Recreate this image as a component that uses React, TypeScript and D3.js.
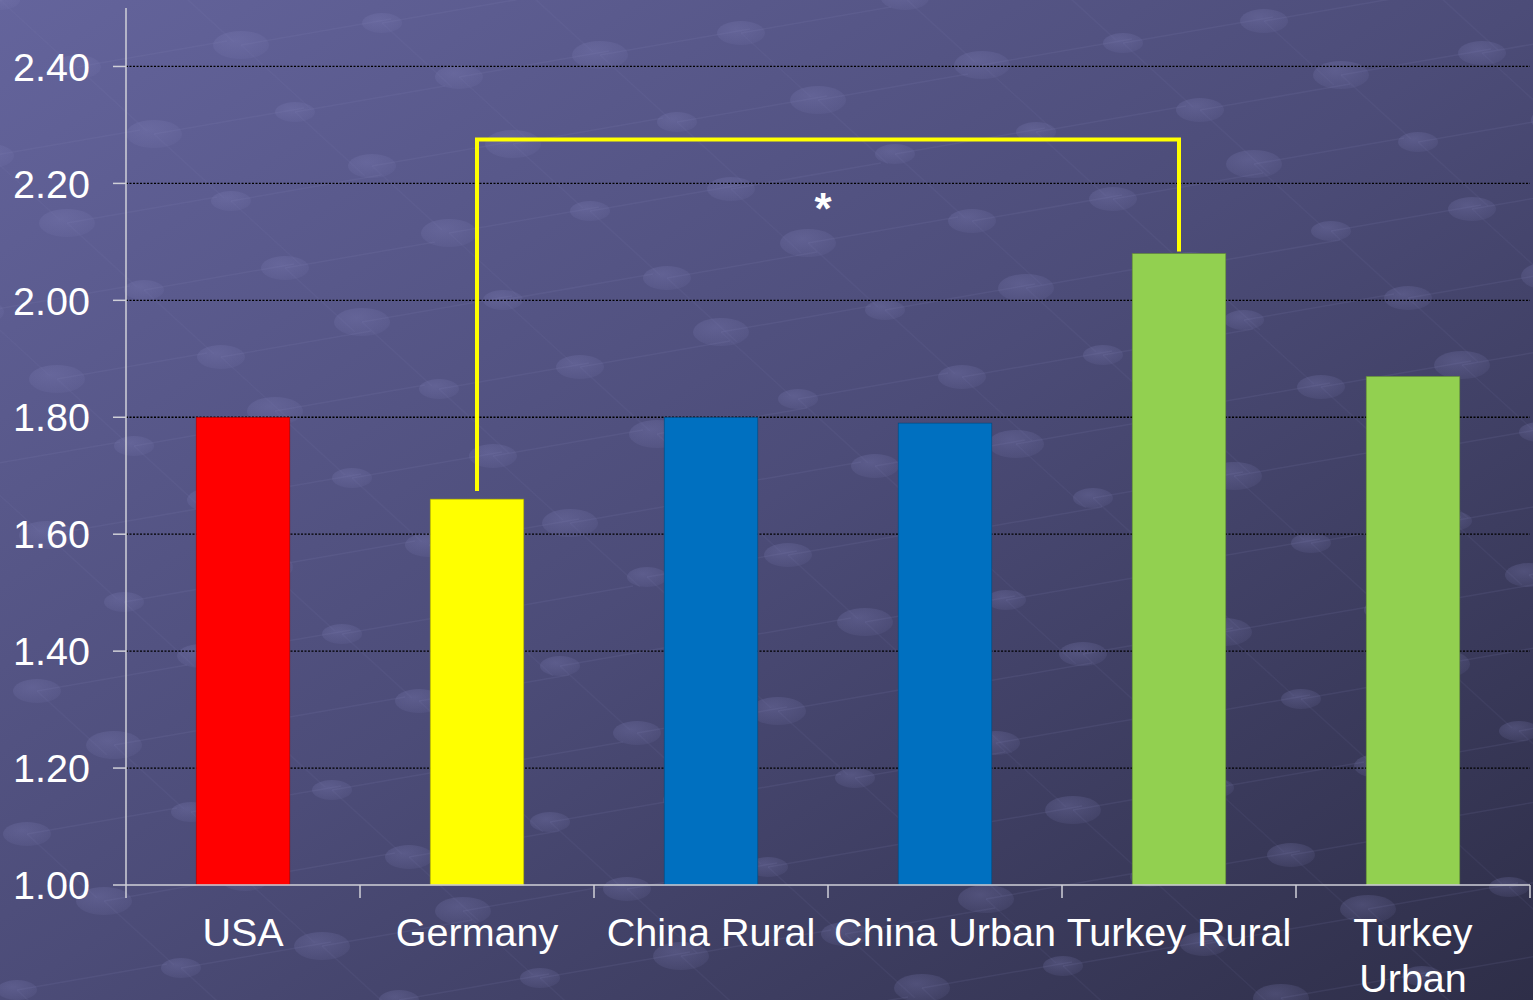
import React from "react";
import * as d3 from "d3";

const categories = ["USA", "Germany", "China Rural", "China Urban", "Turkey Rural", "Turkey Urban"];
const values = [1.8, 1.66, 1.8, 1.79, 2.08, 1.87];
const barColors = ["#ff0000", "#ffff00", "#0070c0", "#0070c0", "#92d050", "#92d050"];
const yTicks = [1.0, 1.2, 1.4, 1.6, 1.8, 2.0, 2.2, 2.4];
const bracketFrom = "Germany";
const bracketTo = "Turkey Rural";
const bracketLevel = 2.275;

const W = 1533;
const H = 1000;
const margin = { left: 126, right: 3, top: 8, bottom: 115 };

export default function App() {
  const x = d3
    .scaleBand<string>()
    .domain(categories)
    .range([margin.left, W - margin.right])
    .paddingInner(0.6)
    .paddingOuter(0.3);
  const band = d3.scaleBand<string>().domain(categories).range([margin.left, W - margin.right]);
  const y = d3.scaleLinear().domain([1.0, 2.5]).range([H - margin.bottom, margin.top]);
  const y0 = y(1.0);
  const font = "'Liberation Sans', Arial, sans-serif";

  // decorative background ellipses in a skewed lattice
  const deco: { cx: number; cy: number }[] = [];
  for (let i = -6; i < 22; i++) {
    for (let j = -4; j < 20; j++) {
      const cx = i * 150 + j * 70 + ((i * 37 + j * 53) % 23);
      const cy = j * 64 - i * 26 + ((i * 17 + j * 29) % 13);
      if (cx > -40 && cx < W + 40 && cy > -30 && cy < H + 30) deco.push({ cx, cy });
    }
  }

  const bx1 = x(bracketFrom)! + x.bandwidth() / 2;
  const bx2 = x(bracketTo)! + x.bandwidth() / 2;
  const by = y(bracketLevel);

  return (
    <svg width={W} height={H} style={{ position: "absolute", left: 0, top: 0 }}>
      <defs>
        <linearGradient id="bg" x1="0" y1="0" x2="1" y2="1">
          <stop offset="0%" stopColor="#64649c" />
          <stop offset="50%" stopColor="#4c4c78" />
          <stop offset="100%" stopColor="#2e2e48" />
        </linearGradient>
        <radialGradient id="dot" cx="0.4" cy="0.35" r="0.7">
          <stop offset="0%" stopColor="#8080b8" stopOpacity="0.32" />
          <stop offset="100%" stopColor="#8080b8" stopOpacity="0.1" />
        </radialGradient>
      </defs>
      <rect x={0} y={0} width={W} height={H} fill="url(#bg)" />
      <g>
        {deco.map((d, i) => (
          <g key={i}>
            <line x1={d.cx} y1={d.cy} x2={d.cx + 150} y2={d.cy - 26} stroke="#8a8ac0" strokeOpacity={0.12} strokeWidth={1.5} />
            <line x1={d.cx} y1={d.cy} x2={d.cx + 70} y2={d.cy + 64} stroke="#8a8ac0" strokeOpacity={0.08} strokeWidth={1.5} />
            <ellipse cx={d.cx} cy={d.cy} rx={20 + (i % 3) * 4} ry={10 + (i % 3) * 2} fill="url(#dot)" />
          </g>
        ))}
      </g>

      {/* gridlines */}
      {yTicks.slice(1).map((t) => (
        <line key={t} x1={margin.left} x2={W - margin.right} y1={y(t)} y2={y(t)} stroke="#000" strokeWidth={1.3} strokeDasharray="2,1.5" />
      ))}

      {/* bars */}
      {categories.map((c, i) => (
        <rect key={c} x={x(c)!} y={y(values[i])} width={x.bandwidth()} height={y0 - y(values[i])} fill={barColors[i]} stroke={d3.color(barColors[i])!.darker(1.2).toString()} strokeWidth={0.6} />
      ))}

      {/* axes */}
      <line x1={margin.left} x2={margin.left} y1={margin.top} y2={y0} stroke="#d0d0d8" strokeWidth={1.5} />
      <line x1={margin.left} x2={W - margin.right} y1={y0} y2={y0} stroke="#d0d0d8" strokeWidth={1.5} />
      {yTicks.map((t) => (
        <g key={t}>
          <line x1={margin.left - 13} x2={margin.left} y1={y(t)} y2={y(t)} stroke="#d0d0d8" strokeWidth={1.5} />
          <text x={90} y={y(t)} dy="0.36em" textAnchor="end" fill="#fff" fontFamily={font} fontSize={39.5}>
            {t.toFixed(2)}
          </text>
        </g>
      ))}
      {categories.map((c) => (
        <line key={c} x1={band(c)!} x2={band(c)!} y1={y0} y2={y0 + 13} stroke="#d0d0d8" strokeWidth={1.5} />
      ))}
      <line x1={W - margin.right} x2={W - margin.right} y1={y0} y2={y0 + 13} stroke="#d0d0d8" strokeWidth={1.5} />
      {categories.map((c) => {
        const cx = band(c)! + band.bandwidth() / 2;
        const words = c === "Turkey Urban" ? ["Turkey", "Urban"] : [c];
        return (
          <text key={c} x={cx} y={946} textAnchor="middle" fill="#fff" fontFamily={font} fontSize={39.5}>
            {words.map((w, k) => (
              <tspan key={k} x={cx} dy={k === 0 ? 0 : 46}>
                {w}
              </tspan>
            ))}
          </text>
        );
      })}

      {/* significance bracket */}
      <path
        d={`M${bx1},${y(values[1]) - 8} V${by} H${bx2} V${y(values[4]) - 2}`}
        fill="none"
        stroke="#ffff00"
        strokeWidth={4}
      />
      <text x={(bx1 + bx2) / 2 - 5} y={224} textAnchor="middle" fill="#fff" fontFamily={font} fontSize={44} fontWeight="bold">
        *
      </text>
    </svg>
  );
}
